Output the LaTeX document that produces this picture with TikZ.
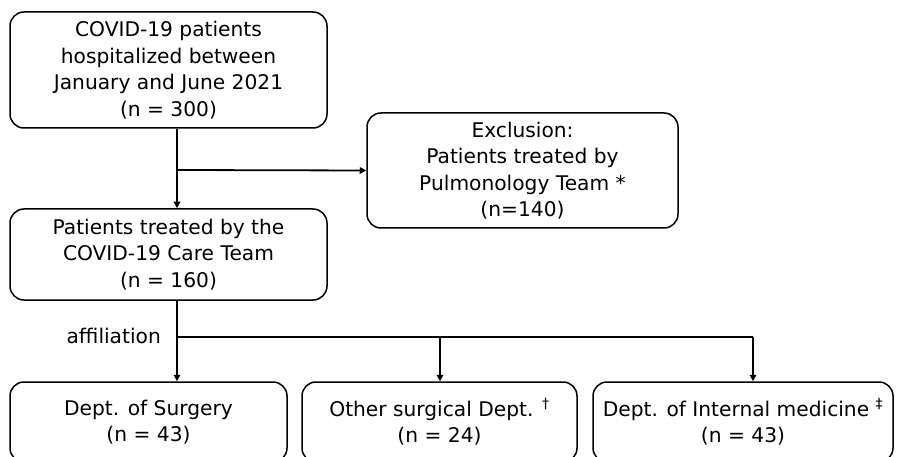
\documentclass[tikz,border=0pt]{standalone}
\usepackage{fontspec}
\setmainfont{DejaVu Sans}
\usetikzlibrary{arrows.meta}
\begin{document}
\begin{tikzpicture}[x=1pt,y=1pt,
  box/.style={draw, line width=1.5pt, rounded corners=14pt, align=center, inner sep=0pt,
    font=\fontsize{20.2}{26.5}\selectfont},
  conn/.style={line width=1.8pt},
  arr/.style={conn, -{Triangle[length=6.5pt,width=6.5pt]}}]
\useasboundingbox (0,0) rectangle (903,456);
\node[box, minimum width=317pt, minimum height=116pt] (start) at (168.5,386)
  {COVID-19 patients\\hospitalized between\\January and June 2021\\(n = 300)};
\node[box, minimum width=311pt, minimum height=115pt] (excl) at (522.5,285.5)
  {Exclusion:\\Patients treated by\\Pulmonology Team *\\(n=140)};
\node[box, minimum width=317pt, minimum height=91pt] (care) at (168.5,201.5)
  {Patients treated by the\\COVID-19 Care Team\\(n = 160)};
\node[box, minimum width=277pt, minimum height=80pt] (surg) at (148.5,34)
  {Dept. of Surgery\\(n = 43)};
\node[box, minimum width=275pt, minimum height=80pt] (other) at (439.5,34)
  {Other surgical Dept. \textsuperscript{†}\\(n = 24)};
\node[box, minimum width=300pt, minimum height=80pt] (intern) at (743,34)
  {Dept. of Internal medicine \textsuperscript{‡}\\(n = 43)};
\coordinate (split) at (177,286);
\coordinate (aff) at (177,119);
\coordinate (affO) at (440,119);
\coordinate (affI) at (753,119);
\draw[arr] (start.south -| split) -- (care.north -| split);
\draw[arr] (split) -- (excl.west);
\draw[arr] (care.south -| aff) -- (surg.north -| aff);
\draw[conn] (aff) -- (affI);
\draw[arr] (affO) -- (other.north -| affO);
\draw[arr] (affI) -- (intern.north -| affI);
\node[anchor=east, font=\fontsize{20.2}{23}\selectfont, inner sep=0pt] (afflabel) at (161,120) {affiliation};
\end{tikzpicture}
\end{document}
